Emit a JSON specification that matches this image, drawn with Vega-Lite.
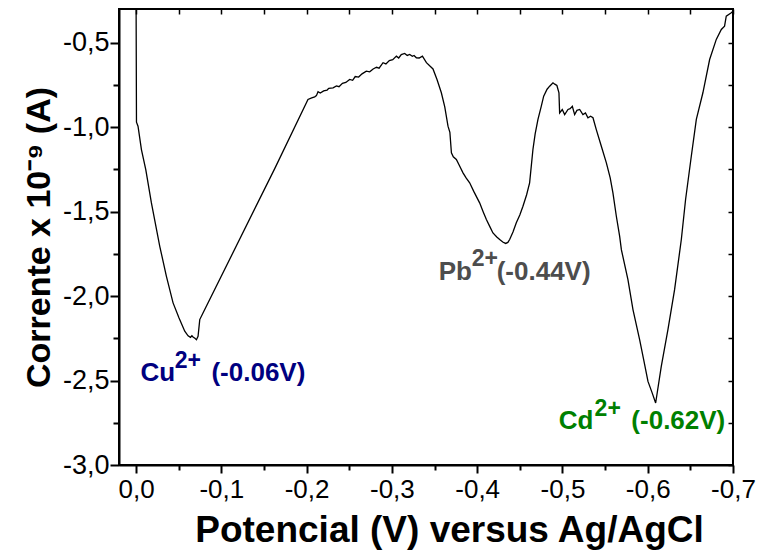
{
  "$schema": "https://vega.github.io/schema/vega-lite/v6.json",
  "width": 614,
  "height": 456,
  "autosize": {"type": "none"},
  "padding": {"left": 119, "top": 9, "right": 25, "bottom": 91},
  "background": "white",
  "config": {
    "view": {"stroke": "black", "strokeWidth": 2},
    "font": "Liberation Sans"
  },
  "datasets": {
    "curve": [
      {"potential": 0.0, "current": -0.20},
      {"potential": -0.0005, "current": -0.97},
      {"potential": -0.0023, "current": -0.994},
      {"potential": -0.0063, "current": -1.132},
      {"potential": -0.0114, "current": -1.251},
      {"potential": -0.018, "current": -1.448},
      {"potential": -0.0278, "current": -1.705},
      {"potential": -0.0356, "current": -1.883},
      {"potential": -0.0434, "current": -2.040},
      {"potential": -0.0504, "current": -2.129},
      {"potential": -0.0571, "current": -2.208},
      {"potential": -0.0610, "current": -2.235},
      {"potential": -0.0638, "current": -2.244},
      {"potential": -0.0655, "current": -2.235},
      {"potential": -0.0668, "current": -2.242},
      {"potential": -0.0690, "current": -2.250},
      {"potential": -0.0708, "current": -2.258},
      {"potential": -0.0727, "current": -2.238},
      {"potential": -0.0747, "current": -2.139},
      {"potential": -0.0785, "current": -2.100},
      {"potential": -0.1626, "current": -1.245},
      {"potential": -0.2016, "current": -0.836},
      {"potential": -0.2060, "current": -0.826},
      {"potential": -0.2095, "current": -0.820},
      {"potential": -0.2115, "current": -0.813},
      {"potential": -0.2134, "current": -0.790},
      {"potential": -0.2160, "current": -0.798},
      {"potential": -0.2200, "current": -0.785},
      {"potential": -0.2240, "current": -0.780},
      {"potential": -0.2260, "current": -0.770},
      {"potential": -0.2310, "current": -0.767},
      {"potential": -0.2350, "current": -0.755},
      {"potential": -0.2380, "current": -0.760},
      {"potential": -0.2420, "current": -0.740},
      {"potential": -0.2460, "current": -0.735},
      {"potential": -0.2505, "current": -0.717},
      {"potential": -0.2540, "current": -0.722},
      {"potential": -0.2570, "current": -0.700},
      {"potential": -0.2610, "current": -0.703},
      {"potential": -0.2650, "current": -0.684},
      {"potential": -0.2700, "current": -0.668},
      {"potential": -0.2740, "current": -0.672},
      {"potential": -0.2780, "current": -0.655},
      {"potential": -0.2820, "current": -0.645},
      {"potential": -0.2850, "current": -0.650},
      {"potential": -0.2896, "current": -0.618},
      {"potential": -0.2930, "current": -0.625},
      {"potential": -0.2970, "current": -0.605},
      {"potential": -0.3010, "current": -0.600},
      {"potential": -0.3053, "current": -0.579},
      {"potential": -0.3080, "current": -0.590},
      {"potential": -0.3110, "current": -0.570},
      {"potential": -0.3150, "current": -0.563},
      {"potential": -0.3180, "current": -0.575},
      {"potential": -0.3209, "current": -0.569},
      {"potential": -0.3240, "current": -0.580},
      {"potential": -0.3260, "current": -0.575},
      {"potential": -0.3287, "current": -0.589},
      {"potential": -0.3320, "current": -0.590},
      {"potential": -0.3358, "current": -0.579},
      {"potential": -0.3405, "current": -0.618},
      {"potential": -0.3482, "current": -0.655},
      {"potential": -0.3529, "current": -0.717},
      {"potential": -0.3580, "current": -0.796},
      {"potential": -0.3620, "current": -0.880},
      {"potential": -0.3658, "current": -0.994},
      {"potential": -0.3680, "current": -1.030},
      {"potential": -0.3698, "current": -1.152},
      {"potential": -0.3720, "current": -1.175},
      {"potential": -0.3756, "current": -1.191},
      {"potential": -0.3790, "current": -1.225},
      {"potential": -0.3834, "current": -1.270},
      {"potential": -0.3870, "current": -1.300},
      {"potential": -0.3912, "current": -1.329},
      {"potential": -0.3960, "current": -1.380},
      {"potential": -0.4029, "current": -1.448},
      {"potential": -0.4070, "current": -1.500},
      {"potential": -0.4108, "current": -1.547},
      {"potential": -0.4150, "current": -1.590},
      {"potential": -0.4185, "current": -1.626},
      {"potential": -0.4230, "current": -1.650},
      {"potential": -0.4264, "current": -1.665},
      {"potential": -0.4300, "current": -1.680},
      {"potential": -0.4334, "current": -1.688},
      {"potential": -0.4360, "current": -1.682},
      {"potential": -0.4381, "current": -1.665},
      {"potential": -0.4420, "current": -1.620},
      {"potential": -0.4459, "current": -1.566},
      {"potential": -0.4500, "current": -1.520},
      {"potential": -0.4537, "current": -1.468},
      {"potential": -0.4580, "current": -1.400},
      {"potential": -0.4615, "current": -1.329},
      {"potential": -0.4654, "current": -1.132},
      {"potential": -0.4680, "current": -1.040},
      {"potential": -0.4713, "current": -0.954},
      {"potential": -0.4750, "current": -0.880},
      {"potential": -0.4780, "current": -0.816},
      {"potential": -0.4820, "current": -0.775},
      {"potential": -0.4850, "current": -0.757},
      {"potential": -0.4889, "current": -0.737},
      {"potential": -0.4910, "current": -0.745},
      {"potential": -0.4935, "current": -0.753},
      {"potential": -0.4959, "current": -0.796},
      {"potential": -0.4967, "current": -0.915},
      {"potential": -0.4998, "current": -0.895},
      {"potential": -0.5026, "current": -0.925},
      {"potential": -0.5065, "current": -0.895},
      {"potential": -0.5090, "current": -0.890},
      {"potential": -0.5116, "current": -0.876},
      {"potential": -0.5143, "current": -0.925},
      {"potential": -0.5170, "current": -0.900},
      {"potential": -0.5202, "current": -0.895},
      {"potential": -0.5240, "current": -0.925},
      {"potential": -0.5270, "current": -0.915},
      {"potential": -0.5299, "current": -0.944},
      {"potential": -0.5330, "current": -0.935},
      {"potential": -0.5358, "current": -0.944},
      {"potential": -0.5397, "current": -1.014},
      {"potential": -0.5456, "current": -1.113},
      {"potential": -0.5515, "current": -1.211},
      {"potential": -0.5560, "current": -1.300},
      {"potential": -0.5592, "current": -1.389},
      {"potential": -0.5632, "current": -1.527},
      {"potential": -0.5671, "current": -1.646},
      {"potential": -0.5691, "current": -1.725},
      {"potential": -0.5768, "current": -1.902},
      {"potential": -0.5827, "current": -2.080},
      {"potential": -0.5905, "current": -2.258},
      {"potential": -0.5950, "current": -2.370},
      {"potential": -0.6003, "current": -2.505},
      {"potential": -0.6050, "current": -2.570},
      {"potential": -0.6093, "current": -2.633},
      {"potential": -0.6159, "current": -2.416},
      {"potential": -0.6237, "current": -2.198},
      {"potential": -0.6315, "current": -1.962},
      {"potential": -0.6394, "current": -1.665},
      {"potential": -0.6444, "current": -1.428},
      {"potential": -0.6511, "current": -1.172},
      {"potential": -0.6570, "current": -0.954},
      {"potential": -0.6647, "current": -0.796},
      {"potential": -0.6726, "current": -0.599},
      {"potential": -0.6804, "current": -0.480},
      {"potential": -0.6863, "current": -0.421},
      {"potential": -0.6901, "current": -0.402},
      {"potential": -0.6921, "current": -0.342},
      {"potential": -0.6980, "current": -0.322},
      {"potential": -0.7000, "current": -0.313}
    ],
    "labels": [
      {"ion": "Cu", "part": "base", "text": "Cu", "potential": -0.0052, "current": -2.505},
      {"ion": "Cu", "part": "sup", "text": "2+", "potential": -0.0454, "current": -2.425},
      {"ion": "Cu", "part": "base", "text": "(-0.06V)", "potential": -0.0884, "current": -2.505},
      {"ion": "Pb", "part": "base", "text": "Pb", "potential": -0.3549, "current": -1.902},
      {"ion": "Pb", "part": "sup", "text": "2+", "potential": -0.3936, "current": -1.822},
      {"ion": "Pb", "part": "base", "text": "(-0.44V)", "potential": -0.4229, "current": -1.902},
      {"ion": "Cd", "part": "base", "text": "Cd", "potential": -0.4956, "current": -2.785},
      {"ion": "Cd", "part": "sup", "text": "2+", "potential": -0.5377, "current": -2.707},
      {"ion": "Cd", "part": "base", "text": "(-0.62V)", "potential": -0.5808, "current": -2.785}
    ]
  },
  "layer": [
    {
      "data": {"name": "curve"},
      "mark": {"type": "line", "color": "black", "strokeWidth": 1.3, "clip": true},
      "encoding": {
        "x": {
          "field": "potential", "type": "quantitative",
          "scale": {"domain": [-0.7, 0.02], "reverse": true, "nice": false, "zero": false},
          "axis": {
            "orient": "bottom",
            "values": [0, -0.05, -0.1, -0.15, -0.2, -0.25, -0.3, -0.35, -0.4, -0.45, -0.5, -0.55, -0.6, -0.65, -0.7],
            "labelExpr": "abs(round(datum.value*10)-datum.value*10)<0.001 ? replace(replace(format(datum.value,'.1f'),'.',','),'\u2212','-') : ''",
            "tickSize": {"condition": {"test": "abs(round(datum.value*10)-datum.value*10)<0.001", "value": 8}, "value": 5},
            "tickColor": "black", "tickWidth": 2,
            "domainColor": "black", "domainWidth": 2,
            "labelFontSize": 26, "labelColor": "black", "labelPadding": 3,
            "labelOverlap": false, "labelFlush": false,
            "grid": false,
            "title": "Potencial (V) versus Ag/AgCl",
            "titleFontSize": 37, "titleFontWeight": "bold", "titleColor": "black",
            "titlePadding": 10, "titleX": 330
          }
        },
        "y": {
          "field": "current", "type": "quantitative",
          "scale": {"domain": [-3.0, -0.3], "nice": false, "zero": false},
          "axis": {
            "orient": "left",
            "values": [-3.0, -2.75, -2.5, -2.25, -2.0, -1.75, -1.5, -1.25, -1.0, -0.75, -0.5],
            "labelExpr": "abs(round(datum.value*2)-datum.value*2)<0.001 ? replace(replace(format(datum.value,'.1f'),'.',','),'\u2212','-') : ''",
            "tickSize": {"condition": {"test": "abs(round(datum.value*2)-datum.value*2)<0.001", "value": 9}, "value": 6},
            "tickColor": "black", "tickWidth": 2,
            "domainColor": "black", "domainWidth": 2,
            "labelFontSize": 27, "labelColor": "black", "labelPadding": 1,
            "labelOverlap": false, "labelFlush": false,
            "grid": false,
            "title": "Corrente x 10\u207B\u2079 (A)",
            "titleFontSize": 34, "titleFontWeight": "bold", "titleColor": "black",
            "titlePadding": 6
          }
        }
      }
    },
    {
      "data": {"name": "labels"},
      "transform": [{"filter": "datum.part === 'base'"}],
      "mark": {"type": "text", "align": "left", "baseline": "alphabetic", "fontSize": 26, "fontWeight": "bold", "font": "Liberation Sans"},
      "encoding": {
        "x": {
          "field": "potential", "type": "quantitative",
          "scale": {"domain": [-0.7, 0.02], "reverse": true, "nice": false, "zero": false},
          "axis": {
            "orient": "top",
            "values": [0, -0.05, -0.1, -0.15, -0.2, -0.25, -0.3, -0.35, -0.4, -0.45, -0.5, -0.55, -0.6, -0.65, -0.7],
            "labels": false, "domain": false, "grid": false, "title": null,
            "tickSize": -5, "tickColor": "black", "tickWidth": 1.5
          }
        },
        "y": {
          "field": "current", "type": "quantitative",
          "scale": {"domain": [-3.0, -0.3], "nice": false, "zero": false},
          "axis": {
            "orient": "right",
            "values": [-3.0, -2.75, -2.5, -2.25, -2.0, -1.75, -1.5, -1.25, -1.0, -0.75, -0.5],
            "labels": false, "domain": false, "grid": false, "title": null,
            "tickSize": -5, "tickColor": "black", "tickWidth": 1.5
          }
        },
        "text": {"field": "text"},
        "color": {
          "field": "ion", "type": "nominal",
          "scale": {"domain": ["Cu", "Pb", "Cd"], "range": ["#000080", "#4d4d4d", "#008000"]},
          "legend": null
        }
      }
    },
    {
      "data": {"name": "labels"},
      "transform": [{"filter": "datum.part === 'sup'"}],
      "mark": {"type": "text", "align": "left", "baseline": "alphabetic", "fontSize": 23, "fontWeight": "bold", "font": "Liberation Sans"},
      "encoding": {
        "x": {
          "field": "potential", "type": "quantitative",
          "scale": {"domain": [-0.7, 0.02], "reverse": true, "nice": false, "zero": false},
          "axis": null
        },
        "y": {
          "field": "current", "type": "quantitative",
          "scale": {"domain": [-3.0, -0.3], "nice": false, "zero": false},
          "axis": null
        },
        "text": {"field": "text"},
        "color": {
          "field": "ion", "type": "nominal",
          "scale": {"domain": ["Cu", "Pb", "Cd"], "range": ["#000080", "#4d4d4d", "#008000"]},
          "legend": null
        }
      }
    }
  ],
  "resolve": {"axis": {"x": "independent", "y": "independent"}}
}
